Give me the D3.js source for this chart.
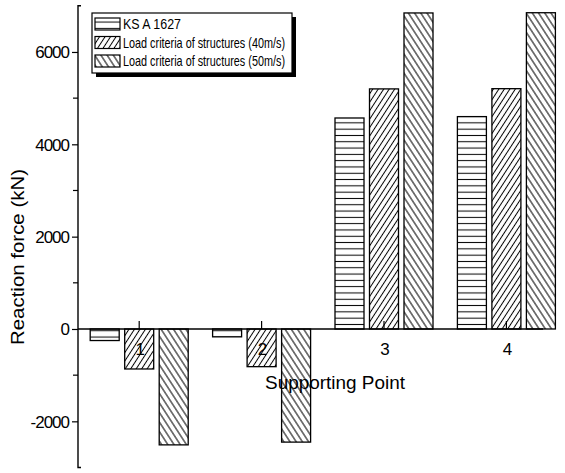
<!DOCTYPE html>
<html>
<head>
<meta charset="utf-8">
<script src="https://cdn.jsdelivr.net/npm/d3@7"></script>
<style>
  body { margin: 0; background: #fff; }
  text { font-family: "Liberation Sans Narrow", "Liberation Sans", Arial, sans-serif; fill: #000; }
</style>
</head>
<body>
<div class="chart"></div>
<script>
'use strict';
(function() {
  // Data
  var categories = [1, 2, 3, 4];
  var seriesNames = ['KS A 1627', 'Load criteria of structures (40m/s)', 'Load criteria of structures (50m/s)'];
  var ksValues = [-250, -170, 4570, 4600];
  var c40Values = [-866, -816, 5200, 5205];
  var c50Values = [-2510, -2450, 6845, 6850];
  var majorTicks = [-2000, 0, 2000, 4000, 6000];
  var minorTicks = [-1000, 1000, 3000, 5000];

  var series = [ksValues, c40Values, c50Values];
  var patterns = ['hatch-h', 'hatch-fwd', 'hatch-back'];

  //Width and height
  var w = 565;
  var h = 473;
  var barW = 29;
  var barStep = 34.5;

  var svg = d3.select('.chart')
    .append('svg')
    .attr('width', w)
    .attr('height', h);

  // Patterns
  var defs = svg.append('defs');
  var addPattern = function(id, size, angle) {
    var p = defs.append('pattern')
      .attr('id', id)
      .attr('patternUnits', 'userSpaceOnUse')
      .attr('width', size)
      .attr('height', size)
      .attr('patternTransform', 'rotate(' + angle + ')');
    p.append('rect').attr('width', size).attr('height', size).attr('fill', '#fff');
    p.append('line')
      .attr('x1', 0).attr('y1', size / 2).attr('x2', size).attr('y2', size / 2)
      .attr('stroke', '#000').attr('stroke-width', 1);
  };
  addPattern('hatch-h', 6.3, 0);
  addPattern('hatch-fwd', 4.6, -57);
  addPattern('hatch-back', 5.2, 57);

  // Scales
  var yScale = d3.scaleLinear()
    .domain([-3000, 7000])
    .range([467.5, 5.8]);

  var xScale = d3.scaleLinear()
    .domain([0.5, 4.5])
    .range([78, 567.6]);

  // Y axis
  var yAxis = d3.axisLeft(yScale)
    .tickValues(majorTicks)
    .tickSize(6)
    .tickPadding(3)
    .tickFormat(function(d) { return String(d); });

  var gy = svg.append('g')
    .attr('transform', 'translate(' + xScale(0.5) + ',0)')
    .call(yAxis);
  gy.select('.domain').remove();
  gy.selectAll('line').attr('stroke', '#000').attr('stroke-width', 1.2);
  gy.selectAll('text')
    .attr('font-size', 17)
    .attr('letter-spacing', -1)
    .attr('dy', '0.35em')
    .style('font-family', '"Liberation Sans Narrow", "Liberation Sans", Arial, sans-serif');

  gy.append('g').selectAll('line')
    .data(minorTicks)
    .enter()
    .append('line')
    .attr('x1', -5).attr('x2', 0)
    .attr('y1', function(d) { return yScale(d); })
    .attr('y2', function(d) { return yScale(d); })
    .attr('stroke', '#000').attr('stroke-width', 1.2);

  // Axis line with end caps
  gy.append('path')
    .attr('d', 'M3,' + yScale(7000) + 'H0V' + yScale(-3000) + 'H3')
    .attr('fill', 'none')
    .attr('stroke', '#000')
    .attr('stroke-width', 1.4);

  // Bars
  var groups = svg.append('g').attr('class', 'data');
  series.forEach(function(vals, s) {
    groups.append('g')
      .selectAll('rect')
      .data(vals)
      .enter()
      .append('rect')
      .attr('x', function(d, i) {
        return xScale(categories[i]) + (s - 1) * barStep - barW / 2;
      })
      .attr('y', function(d) { return Math.min(yScale(d), yScale(0)); })
      .attr('width', barW)
      .attr('height', function(d) { return Math.abs(yScale(d) - yScale(0)); })
      .attr('fill', 'url(#' + patterns[s] + ')')
      .attr('stroke', '#000')
      .attr('stroke-width', 1.3);
  });

  // Zero line with category ticks
  svg.append('line')
    .attr('x1', xScale(0.5)).attr('x2', xScale(4.3))
    .attr('y1', yScale(0)).attr('y2', yScale(0))
    .attr('stroke', '#000').attr('stroke-width', 1.3);

  svg.append('g').selectAll('line')
    .data(categories)
    .enter()
    .append('line')
    .attr('x1', function(d) { return xScale(d); })
    .attr('x2', function(d) { return xScale(d); })
    .attr('y1', yScale(0)).attr('y2', yScale(0) - 8)
    .attr('stroke', '#000').attr('stroke-width', 1.2);

  svg.append('g').selectAll('text')
    .data(categories)
    .enter()
    .append('text')
    .attr('x', function(d) { return xScale(d) + 1; })
    .attr('y', yScale(0) + 26)
    .attr('text-anchor', 'middle')
    .attr('font-size', 17)
    .text(function(d) { return d; });

  // Axis titles
  svg.append('text')
    .attr('x', 265)
    .attr('y', 389)
    .attr('font-size', 18)
    .attr('textLength', 140)
    .attr('lengthAdjust', 'spacingAndGlyphs')
    .text('Supporting Point');

  svg.append('text')
    .attr('transform', 'translate(24,345) rotate(-90)')
    .attr('font-size', 18)
    .attr('textLength', 176)
    .attr('lengthAdjust', 'spacingAndGlyphs')
    .text('Reaction force (kN)');

  // Legend
  var legend = svg.append('g').attr('class', 'legend');
  legend.append('rect')
    .attr('x', 96).attr('y', 17).attr('width', 200).attr('height', 60)
    .attr('fill', '#000');
  legend.append('rect')
    .attr('x', 92).attr('y', 13).attr('width', 200).attr('height', 60)
    .attr('fill', '#fff').attr('stroke', '#000').attr('stroke-width', 1.2);

  var textLens = [58, 162, 162];
  seriesNames.forEach(function(name, s) {
    var cy = 24 + s * 18.5;
    legend.append('rect')
      .attr('x', 95).attr('y', cy - 6).attr('width', 25).attr('height', 12)
      .attr('fill', 'url(#' + patterns[s] + ')')
      .attr('stroke', '#000').attr('stroke-width', 1.2);
    legend.append('text')
      .attr('x', 123).attr('y', cy + 5)
      .attr('font-size', 15)
      .attr('textLength', textLens[s])
      .attr('lengthAdjust', 'spacingAndGlyphs')
      .text(name);
  });
})();
</script>
</body>
</html>
